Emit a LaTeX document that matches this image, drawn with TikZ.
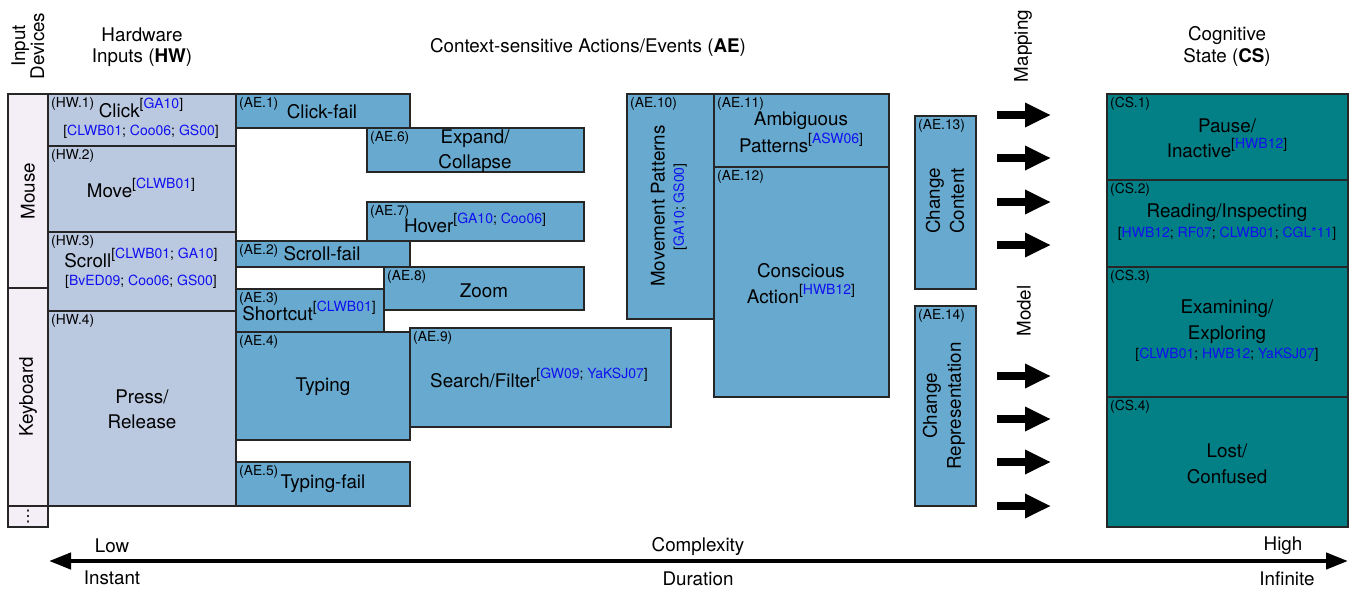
\documentclass[tikz,border=0pt]{standalone}
\usepackage{fontspec}
\setmainfont{TeX Gyre Heros}
\newfontfamily\symfont{DejaVu Sans}
\usetikzlibrary{arrows.meta}

\definecolor{devfill}{HTML}{F4EEF6}
\definecolor{hwfill}{HTML}{BAC8E0}
\definecolor{aefill}{HTML}{67A9CF}
\definecolor{csfill}{HTML}{037F86}
\definecolor{citeblue}{HTML}{1010F0}

% citation keys in blue, brackets and separators in black
\newcommand\cb[1]{\textcolor{citeblue}{#1}}
\newcommand\refsup[1]{\raisebox{8.5pt}{\fontsize{14}{14}\selectfont[#1]}}

% a rectangular cell given by its corners: name, style, x1, y1, x2, y2
\newcommand\cell[6]{\node[#2, minimum width={(#5-#3)*1pt}, minimum height={(#6-#4)*1pt}] (#1) at (#3,#4) {};}
% the small "(XX.n)" identifier in the top left corner of a cell
\newcommand\tagof[2]{\node[tagtxt] at ([shift={(3pt,-3pt)}]#1.north west) {#2};}

\tikzset{
  cellbase/.style={draw=black!85, line width=1.1pt, anchor=north west, inner sep=0pt, outer sep=0pt},
  dev/.style={cellbase, fill=devfill},
  hw/.style={cellbase, fill=hwfill},
  ae/.style={cellbase, fill=aefill},
  cs/.style={cellbase, fill=csfill},
  tagtxt/.style={anchor=north west, inner sep=0pt, font=\fontsize{13.8}{14}\selectfont},
  txt/.style={anchor=base, inner sep=0pt, font=\fontsize{18.8}{24}\selectfont},
  cite/.style={anchor=base, inner sep=0pt, font=\fontsize{14}{16}\selectfont},
  vtxt/.style={rotate=90, align=center, inner sep=0pt, font=\fontsize{18.8}{24}\selectfont},
  maparrow/.style={line width=8.5pt, -{Triangle[length=26pt,width=23pt]}},
  axisarrow/.style={line width=4.3pt, {Triangle[length=22pt,width=16pt]}-{Triangle[length=22pt,width=16pt]}},
}

\begin{document}
\begin{tikzpicture}[x=1pt,y=-1pt]
\useasboundingbox (0,0) rectangle (1350,590);

% ---------- column headings ----------
\node[vtxt, font=\fontsize{18.8}{19}\selectfont] (hdev) at (28,46) {Input\\Devices};
\node[txt] (hhw1) at (142,41) {Hardware};
\node[txt] (hhw2) at (142,62) {Inputs (\textbf{HW})};
\node[txt] (hae) at (588,52) {Context-sensitive Actions/Events (\textbf{AE})};
\node[txt] (hcs1) at (1227,40) {Cognitive};
\node[txt] (hcs2) at (1227,62) {State (\textbf{CS})};
\node[vtxt] (hmap) at (1023,46) {Mapping};
\node[vtxt] (hmodel) at (1024,311) {Model};

% ---------- input devices ----------
\cell{mouse}{dev}{8}{94}{48}{288}
\cell{keyboard}{dev}{8}{288}{48}{506}
\cell{moredev}{dev}{8}{506}{48}{527}
\node[vtxt] at (mouse.center) {Mouse};
\node[vtxt] at (keyboard.center) {Keyboard};
\node[inner sep=0pt, font=\symfont\fontsize{16}{16}\selectfont] at (moredev.center) {⋮};

% ---------- hardware inputs ----------
\cell{hw1}{hw}{48}{94}{236}{146}
\cell{hw2}{hw}{48}{146}{236}{232}
\cell{hw3}{hw}{48}{232}{236}{311}
\cell{hw4}{hw}{48}{311}{236}{506}
\tagof{hw1}{(HW.1)}
\tagof{hw2}{(HW.2)}
\tagof{hw3}{(HW.3)}
\tagof{hw4}{(HW.4)}
\node[txt] at (141,117) {Click\refsup{\cb{GA10}}};
\node[cite] at (141,135) {[\cb{CLWB01}; \cb{Coo06}; \cb{GS00}]};
\node[txt] at (141,197) {Move\refsup{\cb{CLWB01}}};
\node[txt] at (141,267) {Scroll\refsup{\cb{CLWB01}; \cb{GA10}}};
\node[cite] at (141,285) {[\cb{BvED09}; \cb{Coo06}; \cb{GS00}]};
\node[txt] at (142,403) {Press/};
\node[txt] at (142,428) {Release};

% ---------- context-sensitive actions / events ----------
\cell{ae1}{ae}{236}{94}{410}{128}
\cell{ae6}{ae}{367}{128}{584}{172}
\cell{ae7}{ae}{367}{202}{584}{241}
\cell{ae2}{ae}{236}{241}{410}{267}
\cell{ae8}{ae}{384}{267}{584}{310}
\cell{ae3}{ae}{236}{289}{384}{332}
\cell{ae4}{ae}{236}{332}{410}{440}
\cell{ae9}{ae}{410}{328}{671}{427}
\cell{ae5}{ae}{236}{462}{410}{506}
\cell{ae10}{ae}{627}{94}{714}{319}
\cell{ae11}{ae}{714}{94}{889}{167}
\cell{ae12}{ae}{714}{167}{889}{397}
\cell{ae13}{ae}{915}{116}{976}{289}
\cell{ae14}{ae}{915}{306}{976}{506}
\foreach \n in {1,...,14} {\tagof{ae\n}{(AE.\n)}}

\node[txt] at (322,118) {Click-fail};
\node[txt] at (475,143) {Expand/};
\node[txt] at (475,168) {Collapse};
\node[txt] at (475,232) {Hover\refsup{\cb{GA10}; \cb{Coo06}}};
\node[txt] at (322,260) {Scroll-fail};
\node[txt] at (484,297) {Zoom};
\node[txt] at (309,320) {Shortcut\refsup{\cb{CLWB01}}};
\node[txt] at (323,391) {Typing};
\node[txt] at (539,387) {Search/Filter\refsup{\cb{GW09}; \cb{YaKSJ07}}};
\node[txt] at (323,488) {Typing-fail};
\node[vtxt] at (658,206) {Movement Patterns};
\node[vtxt, font=\fontsize{14}{16}\selectfont] at (680,207) {[\cb{GA10}; \cb{GS00}]};
\node[txt] at (801,125) {Ambiguous};
\node[txt] at (801,152) {Patterns\refsup{\cb{ASW06}}};
\node[txt] at (801,277) {Conscious};
\node[txt] at (801,303) {Action\refsup{\cb{HWB12}}};
\node[vtxt] at (945,201) {Change\\Content};
\node[vtxt] at (944,406) {Change\\Representation};

% ---------- mapping arrows ----------
\foreach \i/\y in {1/115,2/158,3/202,4/245,5/376,6/419,7/462,8/506} {
  \coordinate (ms\i) at (997,\y);
  \coordinate (me\i) at (1051,\y);
  \draw[maparrow] (ms\i) -- (me\i);
}

% ---------- cognitive states ----------
\cell{cs1}{cs}{1107}{94}{1348}{180}
\cell{cs2}{cs}{1107}{180}{1348}{267}
\cell{cs3}{cs}{1107}{267}{1348}{397}
\cell{cs4}{cs}{1107}{397}{1348}{527}
\foreach \n in {1,...,4} {\tagof{cs\n}{(CS.\n)}}
\node[txt] at (1227,132) {Pause/};
\node[txt] at (1227,157) {Inactive\refsup{\cb{HWB12}}};
\node[txt] at (1227,217) {Reading/Inspecting};
\node[cite] at (1227,237) {[\cb{HWB12}; \cb{RF07}; \cb{CLWB01}; \cb{CGL*11}]};
\node[txt] at (1227,313) {Examining/};
\node[txt] at (1227,339) {Exploring};
\node[cite] at (1227,358) {[\cb{CLWB01}; \cb{HWB12}; \cb{YaKSJ07}]};
\node[txt] at (1227,457) {Lost/};
\node[txt] at (1227,483) {Confused};

% ---------- complexity / duration axis ----------
\coordinate (axlo) at (49,561);
\coordinate (axhi) at (1348,561);
\draw[axisarrow] (axlo) -- (axhi);
\node[txt] at (112,552) {Low};
\node[txt] at (112,584) {Instant};
\node[txt] at (698,551) {Complexity};
\node[txt] at (698,585) {Duration};
\node[txt] at (1283,550) {High};
\node[txt] at (1287,585) {Infinite};
\end{tikzpicture}
\end{document}
